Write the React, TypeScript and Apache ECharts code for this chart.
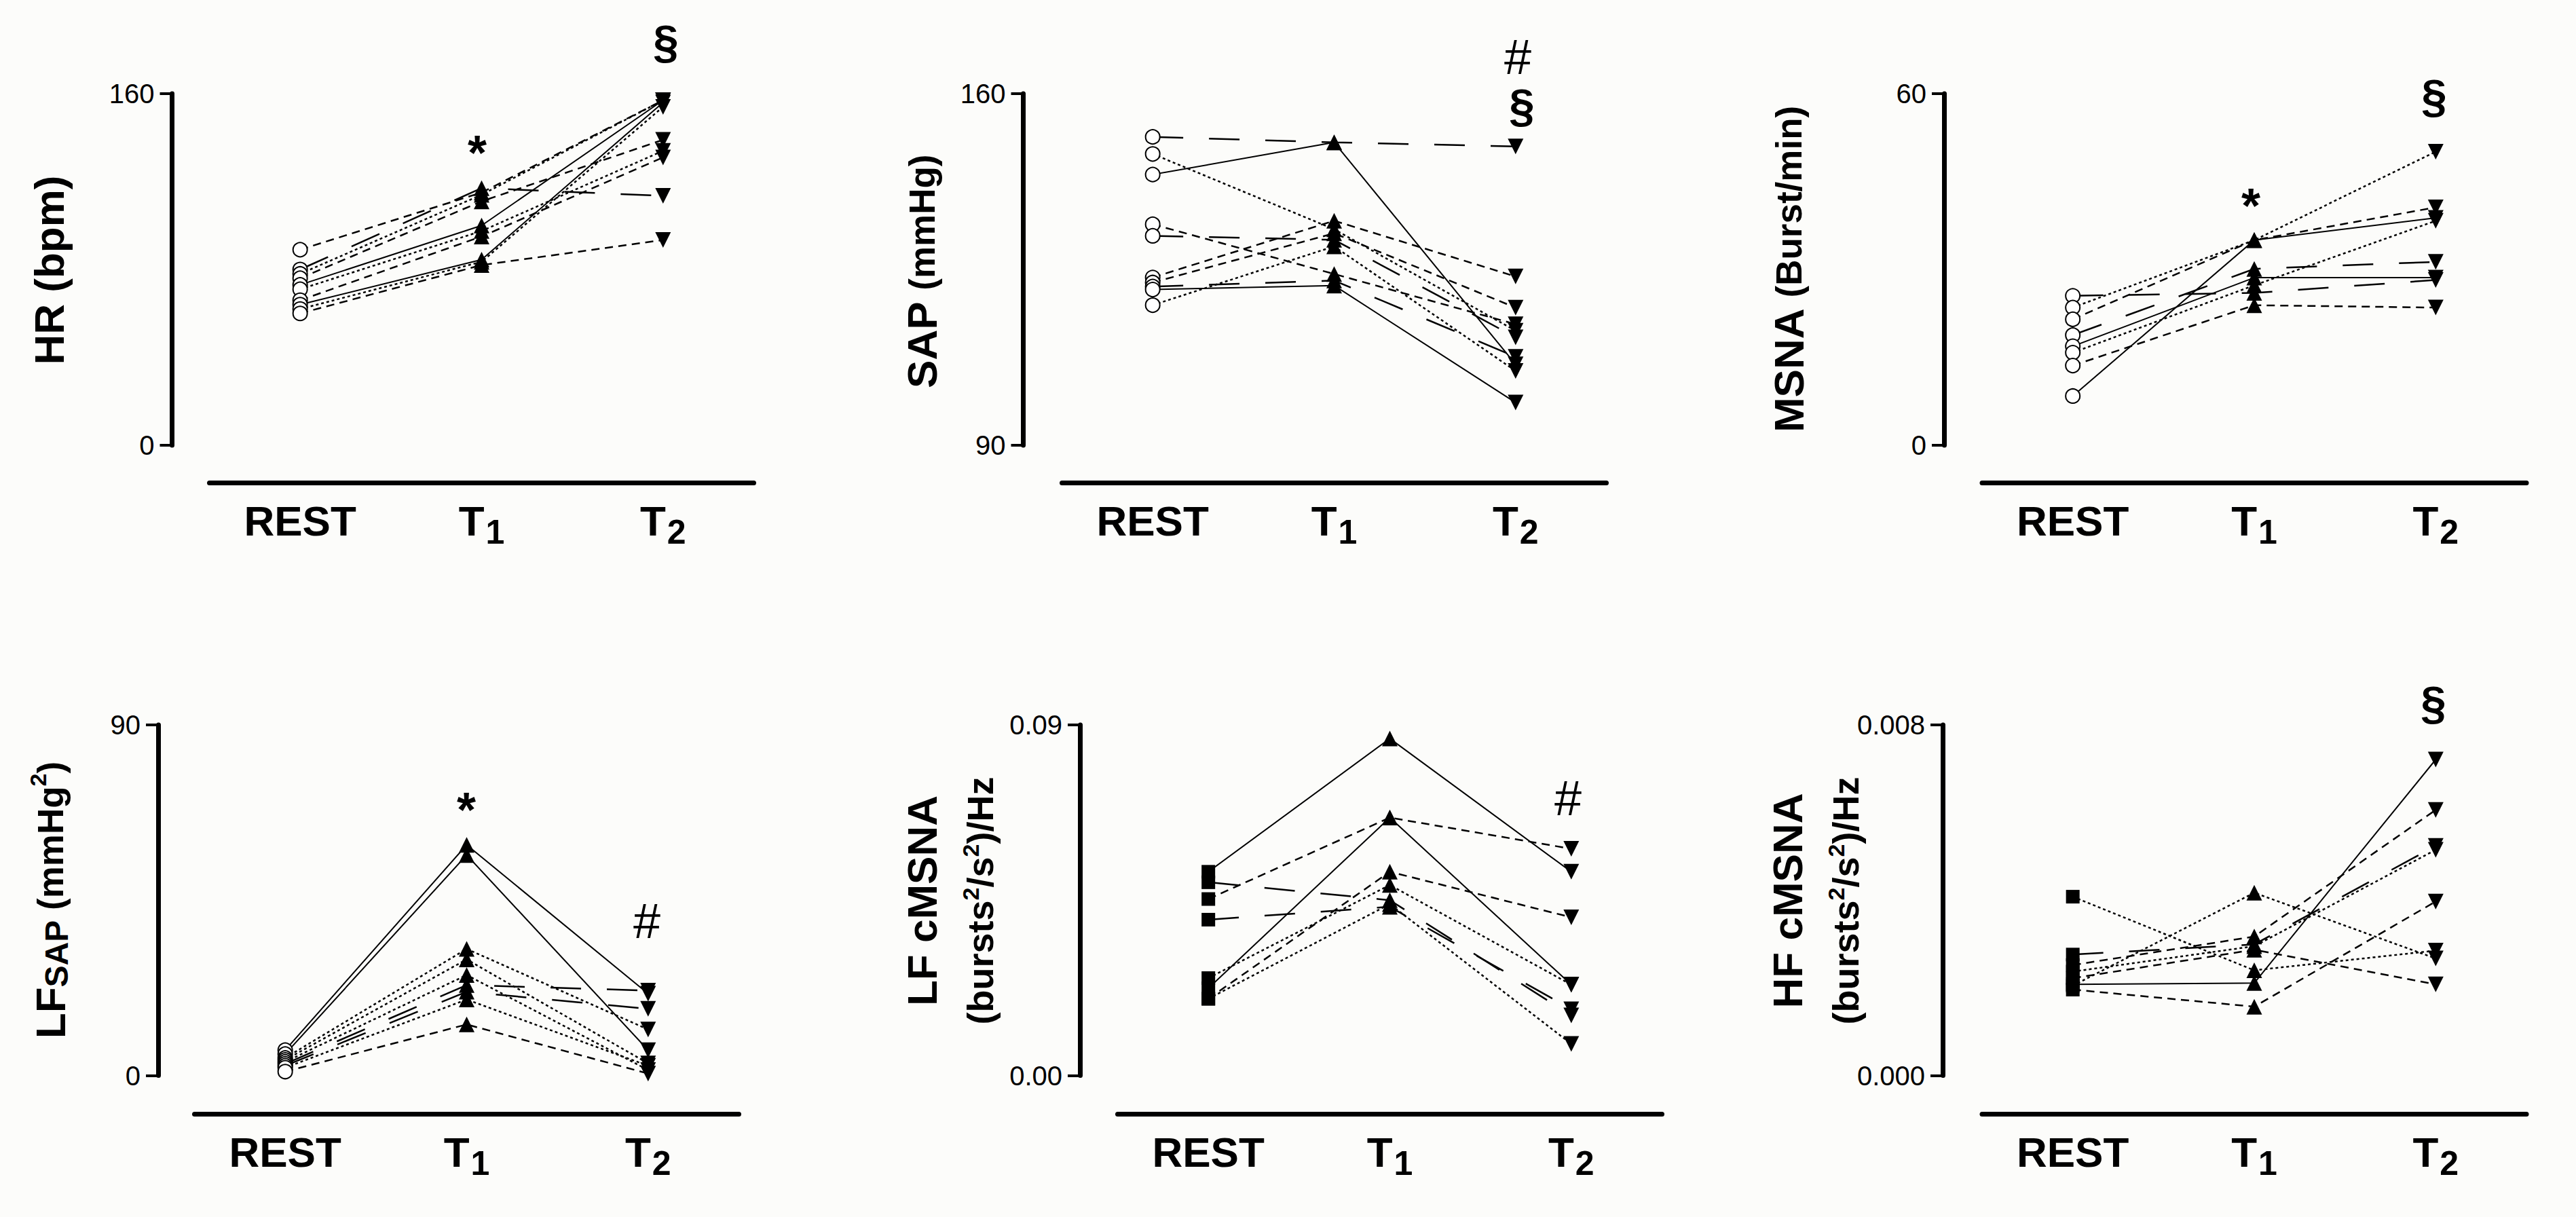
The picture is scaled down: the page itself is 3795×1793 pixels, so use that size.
import React, { useEffect, useRef } from 'react';
import * as echarts from 'echarts';

// ---------------- data ----------------
const categories = ['REST', 'T1', 'T2'];

// HR (bpm)
const hrRest = [89, 80, 78, 76, 73, 71, 66, 64, 62, 60];
const hrT1 = [115, 117, 114, 111, 100, 97.5, 95, 84.5, 83.5, 82];
const hrT2 = [157, 113.5, 157, 139, 157, 134, 131, 156, 154, 93.4];
const hrStyles = ['dashed', 'longdash', 'dotted', 'dashed', 'solid', 'dotted', 'dashed', 'solid', 'dotted', 'dashed'];

// SAP (mmHg)
const sapRest = [151.4, 148, 143.9, 134, 131.7, 123.4, 122.4, 121.6, 117.9, 121.0];
const sapT1 = [150.3, 133, 150.3, 124.1, 130.9, 134.7, 132.2, 122.8, 129.6, 121.8];
const sapT2 = [149.5, 112.8, 106.1, 114.1, 111.5, 123.6, 117.4, 107.6, 104.8, 98.5];
const sapStyles = ['longdash', 'dotted', 'solid', 'dashed', 'longdash', 'dashed', 'dashed', 'longdash', 'dotted', 'solid'];

// MSNA (Burst/min)
const msnaRest = [25.5, 23.5, 21.5, 18.8, 16.9, 15.8, 13.6, 8.4];
const msnaT1 = [26.0, 35.0, 35.0, 30.1, 28.6, 27.3, 23.9, 35.0];
const msnaT2 = [28.2, 50.1, 40.6, 31.3, 28.6, 38.3, 23.5, 38.8];
const msnaStyles = ['longdash', 'dotted', 'dashed', 'longdash', 'solid', 'dotted', 'dashed', 'solid'];

// LF SAP (mmHg^2)
const lfsapRest = [6.5, 5.5, 4.5, 4.0, 3.5, 3.0, 2.5, 2.0, 1.0];
const lfsapT1 = [59.2, 56.6, 32.5, 29.8, 25.8, 23.2, 21.5, 19.5, 13.1];
const lfsapT2 = [21.0, 6.5, 11.8, 3.1, 1.4, 21.8, 17.1, 2.5, 0.5];
const lfsapStyles = ['solid', 'solid', 'dotted', 'dotted', 'dotted', 'longdash', 'longdash', 'dotted', 'dashed'];

// LF cMSNA
const lfmRest = [0.0523, 0.0496, 0.0453, 0.04, 0.025, 0.0224, 0.0197, 0.0197];
const lfmT1 = [0.0865, 0.045, 0.0662, 0.0433, 0.0489, 0.0662, 0.0523, 0.044];
const lfmT2 = [0.0523, 0.0154, 0.0582, 0.017, 0.0233, 0.0233, 0.0406, 0.0081];
const lfmStyles = ['solid', 'longdash', 'dashed', 'longdash', 'dotted', 'solid', 'dashed', 'dotted'];

// HF cMSNA
const hfmRest = [0.00408, 0.00205, 0.00276, 0.00252, 0.00237, 0.00222, 0.00208, 0.00196];
const hfmT1 = [0.0024, 0.00417, 0.00299, 0.00317, 0.00295, 0.00287, 0.00211, 0.00157];
const hfmT2 = [0.00285, 0.00267, 0.00524, 0.00606, 0.00515, 0.00208, 0.00721, 0.00397];
const hfmStyles = ['dotted', 'dotted', 'longdash', 'dashed', 'dotted', 'dashed', 'solid', 'dashed'];

// axis ranges
const yMins = [0, 90, 0, 0, 0, 0];
const yMaxs = [160, 160, 60, 90, 0.09, 0.008];
const yDecimals = [0, 0, 0, 0, 2, 3];

// ---------------- layout / style ----------------
const FONT = '"Liberation Sans", Arial, Helvetica, sans-serif';
const DASH: Record<string, any> = {
  solid: 'solid',
  dotted: [4, 4],
  dashed: [12, 8],
  longdash: [45, 38],
};

const panels = [
  { left: 308.5, top: 138, height: 518, yOff: 55, xOff: 55, rest: hrRest, t1: hrT1, t2: hrT2, styles: hrStyles, restSym: 'emptyCircle' },
  { left: 1564.5, top: 138, height: 518, yOff: 57, xOff: 55, rest: sapRest, t1: sapT1, t2: sapT2, styles: sapStyles, restSym: 'emptyCircle' },
  { left: 2920, top: 138, height: 518, yOff: 56, xOff: 55, rest: msnaRest, t1: msnaT1, t2: msnaT2, styles: msnaStyles, restSym: 'emptyCircle' },
  { left: 286.5, top: 1068, height: 516.5, yOff: 53.5, xOff: 56.5, rest: lfsapRest, t1: lfsapT1, t2: lfsapT2, styles: lfsapStyles, restSym: 'emptyCircle' },
  { left: 1646.5, top: 1068, height: 516.5, yOff: 55.5, xOff: 56.5, rest: lfmRest, t1: lfmT1, t2: lfmT2, styles: lfmStyles, restSym: 'rect' },
  { left: 2920, top: 1068, height: 516.5, yOff: 58, xOff: 56.5, rest: hfmRest, t1: hfmT1, t2: hfmT2, styles: hfmStyles, restSym: 'rect' },
];
const PANEL_W = 802;

const titles = [
  { x: 72, y: 398, text: '{a|HR (bpm)}' },
  { x: 1358, y: 400, text: '{a|SAP }{c|(mmHg)}' },
  { x: 2635, y: 397, text: '{a|MSNA }{c|(Burst/min)}' },
  { x: 74, y: 1326, text: '{a|LF}{sub|SAP}{c| (mmHg}{sup|2}{c|)}' },
  { x: 1389, y: 1327, text: '{a2|LF cMSNA}\n{b|(bursts}{sup2|2}{b|/s}{sup2|2}{b|)/Hz}' },
  { x: 2664, y: 1327, text: '{a2|HF cMSNA}\n{b|(bursts}{sup2|2}{b|/s}{sup2|2}{b|)/Hz}' },
];

const marks = [
  { x: 703, y: 225, t: '*', bold: true, size: 72 },
  { x: 981, y: 61, t: '§', bold: true, size: 68 },
  { x: 2236, y: 84, t: '#', bold: false, size: 72 },
  { x: 2242, y: 155, t: '§', bold: true, size: 68 },
  { x: 3316, y: 303, t: '*', bold: true, size: 72 },
  { x: 3586, y: 141, t: '§', bold: true, size: 68 },
  { x: 687, y: 1193, t: '*', bold: true, size: 72 },
  { x: 953, y: 1357, t: '#', bold: false, size: 72 },
  { x: 2310, y: 1176, t: '#', bold: false, size: 72 },
  { x: 3585, y: 1035, t: '§', bold: true, size: 68 },
];

function buildOption() {
  const grid: any[] = [];
  const xAxis: any[] = [];
  const yAxis: any[] = [];
  const series: any[] = [];

  panels.forEach((p, i) => {
    grid.push({ left: p.left, top: p.top, width: PANEL_W, height: p.height, containLabel: false });
    xAxis.push({
      type: 'category',
      gridIndex: i,
      data: categories,
      position: 'bottom',
      offset: p.xOff,
      boundaryGap: true,
      axisLine: { onZero: false, lineStyle: { color: '#000', width: 7 } },
      axisTick: { alignWithLabel: true, length: 17, lineStyle: { color: '#000', width: 5 } },
      splitLine: { show: false },
      axisLabel: {
        interval: 0,
        margin: 14,
        formatter: (v: string) => (v === 'REST' ? '{m|REST}' : `{m|T}{s|${v.slice(1)}}`),
        rich: {
          m: { fontSize: 62, fontWeight: 'bold', lineHeight: 84, fontFamily: FONT, color: '#000' },
          s: { fontSize: 50, fontWeight: 'bold', lineHeight: 50, padding: [34, 0, 0, 2], fontFamily: FONT, color: '#000' },
        },
      },
    });
    const mn = yMins[i];
    const mx = yMaxs[i];
    const dec = yDecimals[i];
    yAxis.push({
      type: 'value',
      gridIndex: i,
      min: mn,
      max: mx,
      interval: mx - mn,
      offset: p.yOff,
      axisLine: { show: true, onZero: false, lineStyle: { color: '#000', width: 7 } },
      axisTick: { show: true, length: 18, lineStyle: { color: '#000', width: 4 } },
      splitLine: { show: false },
      axisLabel: {
        margin: 26,
        fontSize: 40,
        fontFamily: FONT,
        color: '#000',
        formatter: (v: number) => v.toFixed(dec),
      },
    });

    p.rest.forEach((r, j) => {
      const isCircle = p.restSym === 'emptyCircle';
      const st = p.styles[j];
      series.push({
        type: 'line',
        xAxisIndex: i,
        yAxisIndex: i,
        silent: true,
        symbolSize: 23,
        lineStyle: { color: '#000', width: st === 'solid' ? 2 : 2.5, type: DASH[st] },
        itemStyle: { color: '#000', borderColor: '#000', borderWidth: 0 },
        data: [
          {
            value: r,
            symbol: p.restSym,
            symbolSize: isCircle ? 21 : 20,
            itemStyle: isCircle ? { color: '#000', borderColor: '#000', borderWidth: 3.5 } : { color: '#000', borderWidth: 0 },
          },
          { value: p.t1[j], symbol: 'triangle' },
          { value: p.t2[j], symbol: 'triangle', symbolRotate: 180 },
        ],
        z: 2,
      });
    });
  });

  const graphic: any[] = [];
  titles.forEach((t) => {
    graphic.push({
      type: 'text',
      x: t.x,
      y: t.y,
      rotation: Math.PI / 2,
      silent: true,
      style: {
        text: t.text,
        fill: '#000',
        align: 'center',
        verticalAlign: 'middle',
        textAlign: 'center',
        textVerticalAlign: 'middle',
        fontFamily: FONT,
        rich: {
          a: { fontSize: 62, fontWeight: 'bold', lineHeight: 70, fontFamily: FONT, fill: '#000', color: '#000' },
          a2: { fontSize: 62, fontWeight: 'bold', lineHeight: 110, fontFamily: FONT, fill: '#000', color: '#000' },
          c: { fontSize: 53, fontWeight: 'bold', lineHeight: 70, fontFamily: FONT, fill: '#000', color: '#000' },
          b: { fontSize: 54, fontWeight: 'bold', lineHeight: 62, fontFamily: FONT, fill: '#000', color: '#000' },
          sub: { fontSize: 48, fontWeight: 'bold', lineHeight: 48, padding: [18, 0, 0, 0], fontFamily: FONT, fill: '#000', color: '#000' },
          sup: { fontSize: 34, fontWeight: 'bold', lineHeight: 24, verticalAlign: 'top', fontFamily: FONT, fill: '#000', color: '#000' },
          sup2: { fontSize: 34, fontWeight: 'bold', lineHeight: 24, verticalAlign: 'top', fontFamily: FONT, fill: '#000', color: '#000' },
        },
      },
    });
  });
  marks.forEach((m) => {
    graphic.push({
      type: 'text',
      x: m.x,
      y: m.y,
      silent: true,
      style: {
        text: m.t,
        fill: '#000',
        align: 'center',
        verticalAlign: 'middle',
        textAlign: 'center',
        textVerticalAlign: 'middle',
        fontSize: m.size,
        fontWeight: m.bold ? 'bold' : 'normal',
        fontFamily: FONT,
      },
    });
  });

  return {
    animation: false,
    backgroundColor: '#fcfcfa',
    textStyle: { fontFamily: FONT, color: '#000' },
    grid,
    xAxis,
    yAxis,
    series,
    graphic,
  };
}

export default function App() {
  const ref = useRef<HTMLDivElement>(null);
  useEffect(() => {
    document.body.style.margin = '0';
    if (!ref.current) return;
    const chart = echarts.init(ref.current, undefined, { renderer: 'svg' });
    chart.setOption(buildOption() as any);
    return () => {
      chart.dispose();
    };
  }, []);
  return <div ref={ref} style={{ width: '3795px', height: '1793px' }} />;
}
